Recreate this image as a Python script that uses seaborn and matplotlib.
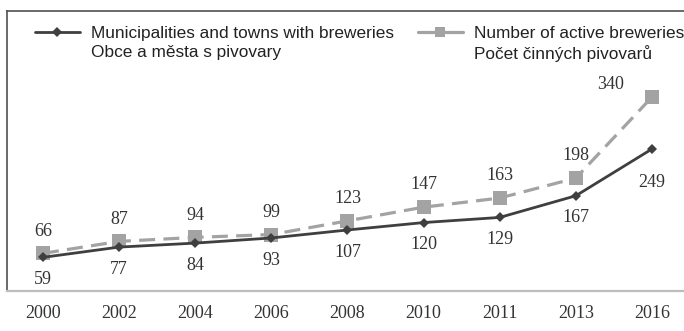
import matplotlib
matplotlib.use("Agg")
import matplotlib.pyplot as plt
from matplotlib.lines import Line2D
import seaborn as sns
import pandas as pd

years = ["2000", "2002", "2004", "2006", "2008", "2010", "2011", "2013", "2016"]
towns = [59, 77, 84, 93, 107, 120, 129, 167, 249]
breweries = [66, 87, 94, 99, 123, 147, 163, 198, 340]

label_towns = ["Municipalities and towns with breweries", "Obce a města s pivovary"]
label_breweries = ["Number of active breweries", "Počet činných pivovarů"]

dark = "#3f3f3f"
light = "#a3a3a3"

df = pd.DataFrame({"year": years, "towns": towns, "breweries": breweries})

sns.set_theme(style="white")
plt.rcParams["font.family"] = ["Liberation Sans", "DejaVu Sans"]

W, H = 684, 331
fig = plt.figure(figsize=(W / 100, H / 100), dpi=100)
ax = fig.add_axes([7 / W, 40 / H, (690 - 7) / W, 280 / H])

sns.lineplot(data=df, x="year", y="breweries", ax=ax, color=light, lw=2.3,
             linestyle=(0, (5.0, 2.6)), marker="s", markersize=9.5,
             markeredgewidth=0, markerfacecolor=light, sort=False)
sns.lineplot(data=df, x="year", y="towns", ax=ax, color=dark, lw=2.0,
             marker="D", markersize=5.5, markeredgewidth=0,
             markerfacecolor=dark, sort=False)

serif = ["Liberation Serif", "DejaVu Serif"]
for i, v in enumerate(breweries):
    dx, dy = (0, 16)
    if i == len(breweries) - 1:
        dx, dy = (-30, 9)
    ax.annotate(str(v), (i, v), xytext=(dx, dy), textcoords="offset points",
                ha="center", va="center", fontsize=13, family=serif, color="#333333")
for i, v in enumerate(towns):
    dy = -16
    if i == len(towns) - 1:
        dy = -24
    ax.annotate(str(v), (i, v), xytext=(0, dy), textcoords="offset points",
                ha="center", va="center", fontsize=13, family=serif, color="#333333")

ax.set_xlim(-0.473, 8.5)
ax.set_ylim(0, 491)
ax.set_yticks([])
ax.set_xlabel("")
ax.set_ylabel("")
ax.tick_params(axis="x", length=0, pad=10, labelsize=13, labelcolor="#333333")
for t in ax.get_xticklabels():
    t.set_family(serif)

for side in ("left", "top"):
    ax.spines[side].set_color("#505050")
    ax.spines[side].set_linewidth(1.2)
ax.spines["right"].set_visible(False)
ax.spines["bottom"].set_color("#bdbdbd")
ax.spines["bottom"].set_linewidth(1.6)

h_towns = Line2D([], [], color=dark, lw=2.0, marker="D", markersize=5.5,
                 markeredgewidth=0)
h_brew = Line2D([], [], color=light, lw=2.3, marker="s", markersize=7,
                markeredgewidth=0)
blank = Line2D([], [], color="none")
ax.legend([h_towns, blank, h_brew, blank],
          [label_towns[0], label_towns[1], label_breweries[0], label_breweries[1]],
          ncol=2, loc="upper left", bbox_to_anchor=((35 - 7) / 683, (280 - 15) / 280),
          frameon=False, fontsize=12.4, borderpad=0, borderaxespad=0,
          handlelength=2.6, handletextpad=0.65, columnspacing=1.4,
          labelspacing=0.22, labelcolor="#222222")

fig.savefig("out.png", dpi=100)
